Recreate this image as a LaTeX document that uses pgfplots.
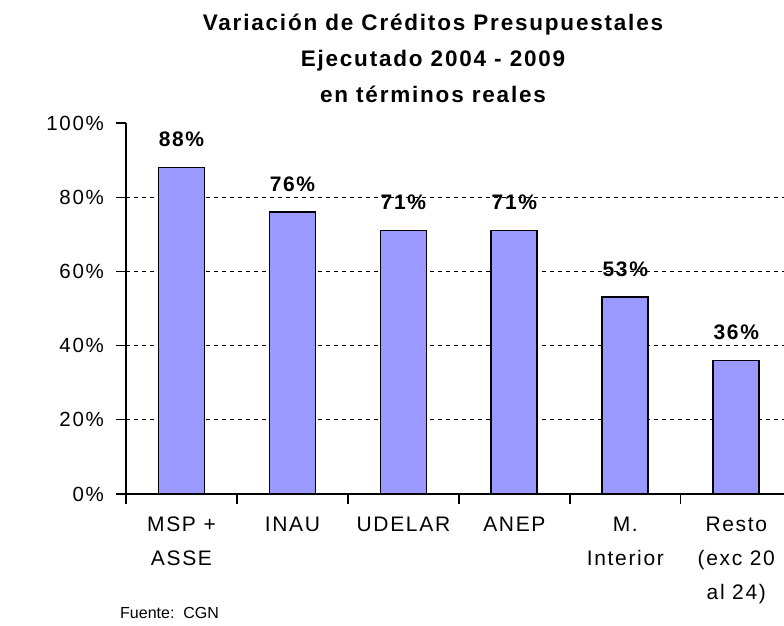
\documentclass[border=0pt]{standalone}
\usepackage{pgfplots}
\pgfplotsset{compat=1.18}
\usepackage{fontspec}
\setmainfont{Liberation Sans}
\newfontfamily\ls[LetterSpace=8]{Liberation Sans}
\definecolor{barblue}{HTML}{9999FF}
\begin{document}
\begin{tikzpicture}[x=1pt,y=1pt]
\path[use as bounding box] (0,0) rectangle (784,626);
\begin{axis}[
  /pgf/number format/assume math mode=true,
  at={(126pt,132pt)}, anchor=south west,
  width=658pt, height=371pt, scale only axis,
  xmin=-0.5, xmax=5.43, ymin=0, ymax=100,
  axis x line*=bottom, axis y line*=left,
  axis line style={black, line width=1.6pt},
  tick align=outside,
  major tick length=0pt, minor tick length=10pt,
  every tick/.style={black, line width=1.3pt},
  minor tick style={black, line width=1.3pt},
  xtick={0,...,5},
  minor xtick={-0.5,0.5,1.5,2.5,3.5,4.5},
  xticklabels={{MSP +\\ASSE},{INAU},{UDELAR},{ANEP},{M.\\Interior},{Resto\\(exc 20\\al 24)}},
  xticklabel style={align=center, inner sep=0pt, yshift=-23pt, font=\ls\fontsize{21}{34}\selectfont},
  ytick={0,20,...,100},
  minor ytick={0,20,...,100},
  yticklabel={\pgfmathprintnumber{\tick}\%},
  yticklabel style={inner sep=0pt, xshift=-22pt, font=\ls\fontsize{20.5}{24}\selectfont},
  extra y ticks={20,40,60,80},
  extra y tick labels={},
  extra y tick style={grid=major, major grid style={black, line width=0.9pt, dash pattern=on 4pt off 4pt}},
  ybar, bar width=46pt,
  nodes near coords={\pgfmathprintnumber[fixed,precision=0]{\pgfplotspointmeta}\%},
  every node near coord/.append style={anchor=base, yshift=21pt, inner sep=0pt, font=\ls\bfseries\fontsize{21}{24}\selectfont},
  clip=false,
]
\addplot[fill=barblue, draw=black, line width=1.8pt] coordinates {(0,88) (1,76) (2,71) (3,71) (4,53) (5,36)};
\end{axis}
\node[align=center, font=\ls\bfseries\fontsize{22.5}{36}\selectfont] at (433,568) {Variación de Créditos Presupuestales\\Ejecutado 2004 - 2009\\en términos reales};
\node[anchor=west, inner sep=0pt, font=\fontsize{16}{20}\selectfont] at (120,13) {Fuente:\ \ CGN};
\end{tikzpicture}
\end{document}
